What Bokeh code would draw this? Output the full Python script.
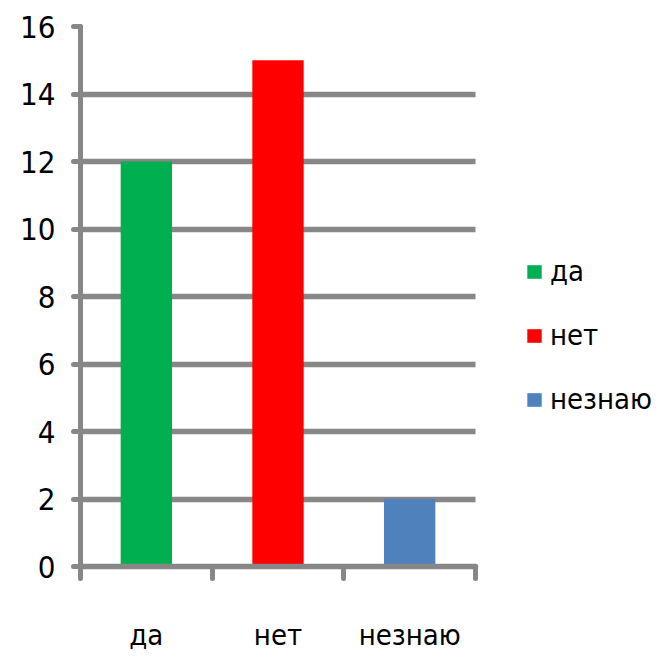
from bokeh.plotting import figure
from bokeh.models import ColumnDataSource, Range1d, FixedTicker, SingleIntervalTicker, Legend
from bokeh.embed import file_html
from bokeh.resources import INLINE

# Survey answers and counts
categories = ["да", "нет", "незнаю"]
counts = [12, 15, 2]
colors = ["#00B050", "#FF0000", "#4F81BD"]

GRID = "#878787"
FONT = "DejaVu Sans Condensed, Roboto, sans-serif"

centers = [i + 0.5 for i in range(len(categories))]
source = ColumnDataSource(dict(x=centers, count=counts, color=colors, category=categories))

p = figure(
    frame_width=395, frame_height=540,
    min_border_left=80, min_border_right=189, min_border_top=26, min_border_bottom=91,
    x_range=Range1d(0, len(categories)), y_range=Range1d(0, 16),
    output_backend="svg", toolbar_location=None,
)
p.outline_line_color = None
p.background_fill_color = "white"
p.border_fill_color = "white"

bars = p.vbar(x="x", top="count", width=0.39, color="color", line_color=None, source=source)

# Horizontal gridlines
p.xgrid.visible = False
p.ygrid.grid_line_color = GRID
p.ygrid.grid_line_width = 5.5
p.ygrid.grid_line_cap = "round"

# Y axis
yax = p.yaxis[0]
yax.ticker = SingleIntervalTicker(interval=2)
yax.axis_line_color = GRID
yax.axis_line_width = 5
yax.axis_line_cap = "round"
yax.major_tick_line_color = GRID
yax.major_tick_line_width = 5
yax.major_tick_line_cap = "round"
yax.major_tick_out = 7
yax.major_tick_in = 0
yax.minor_tick_line_color = None
yax.major_label_standoff = 18
yax.major_label_text_font = FONT
yax.major_label_text_font_size = "31px"
yax.major_label_text_color = "black"

# X axis: labels at category centers, tick marks at category boundaries
xax = p.xaxis[0]
xax.ticker = FixedTicker(ticks=centers, minor_ticks=list(range(len(categories) + 1)))
xax.major_label_overrides = {c: name for c, name in zip(centers, categories)}
xax.axis_line_color = GRID
xax.axis_line_width = 5.5
xax.axis_line_cap = "round"
xax.major_tick_line_color = None
xax.major_tick_out = 0
xax.major_tick_in = 0
xax.minor_tick_line_color = GRID
xax.minor_tick_line_width = 5
xax.minor_tick_line_cap = "round"
xax.minor_tick_out = 12
xax.minor_tick_in = 0
xax.major_label_standoff = 39
xax.major_label_text_font = FONT
xax.major_label_text_font_size = "29px"
xax.major_label_text_color = "black"

# Legend to the right of the bars, one entry per answer
lg = Legend(
    items=[(name, [bars]) for name in categories],
    location=(50, 150),
    border_line_color=None,
    background_fill_alpha=0,
    padding=0,
    margin=0,
    glyph_width=18,
    glyph_height=17,
    label_standoff=7,
    label_text_font=FONT,
    label_text_font_size="29px",
    label_text_color="black",
    spacing=30,
)
for i, item in enumerate(lg.items):
    item.index = i
p.add_layout(lg, "right")

open("out.html", "w").write(file_html(p, INLINE))
